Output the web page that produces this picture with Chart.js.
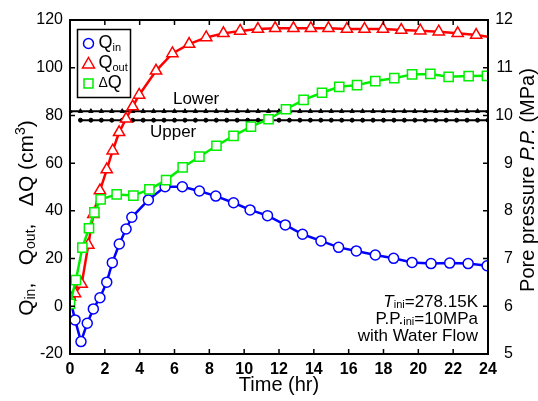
<!DOCTYPE html>
<html>
<head>
<meta charset="utf-8">
<script src="https://cdn.jsdelivr.net/npm/chart.js@4.4.1/dist/chart.umd.min.js"></script>
<style>
html,body{margin:0;padding:0;background:#fff;}
#wrap{width:538px;height:401px;}
</style>
</head>
<body>
<div id="wrap"><canvas id="c" width="538" height="401"></canvas></div>
<script>
// time (hr) and flow values (cm3)
const tIn = [0,0.29,0.63,0.99,1.34,1.72,2.11,2.43,2.83,3.22,3.55,4.5,5.46,6.45,7.43,8.37,9.39,10.34,11.34,12.36,13.35,14.41,15.42,16.44,17.53,18.58,19.64,20.73,21.8,22.86,23.95];
const qIn = [3.4,-5.7,-14.8,-7.1,-1.1,3.6,10.1,18.3,26.1,32.4,37.3,44.6,50.1,50.1,48.3,46.2,43.4,40.4,38.0,34.1,30.2,27.4,24.7,23.2,21.5,20.1,18.4,17.9,18.1,17.9,17.0];

const tOut = [0,0.29,0.67,1.05,1.34,1.72,2.11,2.45,2.82,3.22,3.6,3.97,4.94,5.88,6.84,7.82,8.81,9.77,10.79,11.78,12.83,13.83,14.84,15.9,16.91,17.97,19.02,20.11,21.17,22.26,23.32,24];
const qOut = [4.0,5.4,9.3,25.7,38.6,48.5,57.3,65.2,72.9,78.6,83.7,88.6,98.7,106.0,109.9,112.7,114.4,115.4,116.2,116.5,116.5,116.5,116.5,116.2,116.2,116.2,115.8,115.5,115.1,114.4,113.7,113.0];

const tDelta = [0,0.34,0.71,1.09,1.4,1.76,2.68,3.64,4.56,5.52,6.47,7.43,8.41,9.39,10.39,11.4,12.4,13.41,14.47,15.46,16.48,17.53,18.62,19.64,20.69,21.74,22.89,23.94];
const qDelta = [1.0,11.0,24.6,32.7,39.4,44.8,46.9,46.4,49.0,52.9,58.2,62.7,67.3,71.4,75.3,78.4,82.6,86.5,89.5,92.0,92.7,94.4,95.6,97.2,97.4,96.2,96.5,96.6];

// pore pressure (MPa), lower and upper
const tLower = [0,0.6,1.2,1.8,2.4,3,3.6,4.2,4.8,5.4,6,6.6,7.2,7.8,8.4,9,9.6,10.2,10.8,11.4,12,12.6,13.2,13.8,14.4,15,15.6,16.2,16.8,17.4,18,18.6,19.2,19.8,20.4,21,21.6,22.2,22.8,23.4,24];
const pLower = [10.09,10.09,10.09,10.09,10.09,10.09,10.09,10.09,10.09,10.09,10.09,10.09,10.09,10.09,10.09,10.09,10.09,10.09,10.09,10.09,10.09,10.09,10.09,10.09,10.09,10.09,10.09,10.09,10.09,10.09,10.09,10.09,10.09,10.09,10.09,10.09,10.09,10.09,10.09,10.09,10.09];
const tUpper = [0.6,1.2,1.8,2.4,3,3.6,4.2,4.8,5.4,6,6.6,7.2,7.8,8.4,9,9.6,10.2,10.8,11.4,12,12.6,13.2,13.8,14.4,15,15.6,16.2,16.8,17.4,18,18.6,19.2,19.8,20.4,21,21.6,22.2,22.8,23.4,24];
const pUpper = [9.9,9.9,9.9,9.9,9.9,9.9,9.9,9.9,9.9,9.9,9.9,9.9,9.9,9.9,9.9,9.9,9.9,9.9,9.9,9.9,9.9,9.9,9.9,9.9,9.9,9.9,9.9,9.9,9.9,9.9,9.9,9.9,9.9,9.9,9.9,9.9,9.9,9.9,9.9,9.9];

const xTicks = [0,2,4,6,8,10,12,14,16,18,20,22,24];
const yTicks = [-20,0,20,40,60,80,100,120];
const y2Ticks = [5,6,7,8,9,10,11,12];

const FONT = "'Liberation Sans', Arial, sans-serif";
const BLUE = '#0000ff', RED = '#ff0000', GREEN = '#00ee00';

function pts(xs, ys){
return xs.map((x,i)=>({x:x, y:ys[i]}));
}

// draw text made of pieces (subscripts etc.)
function rich(ctx, x, y, pieces, align){
let w = 0;
pieces.forEach(p=>{
ctx.font = (p.it ? 'italic ' : '') + p.size + 'px ' + FONT;
p.w = ctx.measureText(p.t).width;
w += p.w;
});
let cx = x;
if(align === 'right') cx = x - w;
if(align === 'center') cx = x - w/2;
ctx.textAlign = 'left';
ctx.textBaseline = 'middle';
pieces.forEach(p=>{
ctx.font = (p.it ? 'italic ' : '') + p.size + 'px ' + FONT;
ctx.fillText(p.t, cx, y + (p.dy || 0));
cx += p.w;
});
}

function marker(ctx, type, x, y, color){
ctx.save();
ctx.strokeStyle = color;
ctx.fillStyle = '#fff';
ctx.lineWidth = 1.5;
ctx.beginPath();
if(type === 'circle'){
ctx.arc(x, y, 5, 0, Math.PI*2);
}else if(type === 'triangle'){
ctx.moveTo(x, y-6);
ctx.lineTo(x+6, y+4.5);
ctx.lineTo(x-6, y+4.5);
ctx.closePath();
}else{
ctx.rect(x-4.5, y-4.5, 9, 9);
}
ctx.fill();
ctx.stroke();
ctx.restore();
}

const decor = {
id:'decor',
afterDraw(chart){
const ctx = chart.ctx;
const ca = chart.chartArea;
const sx = chart.scales.x, sy = chart.scales.y, sy2 = chart.scales.y2;
ctx.save();
ctx.strokeStyle = '#000';
ctx.fillStyle = '#000';

// frame
ctx.lineWidth = 2;
ctx.strokeRect(ca.left, ca.top, ca.right-ca.left, ca.bottom-ca.top);

// inward ticks
ctx.lineWidth = 1.5;
ctx.beginPath();
xTicks.forEach(v=>{
const px = sx.getPixelForValue(v);
ctx.moveTo(px, ca.bottom); ctx.lineTo(px, ca.bottom-5);
ctx.moveTo(px, ca.top); ctx.lineTo(px, ca.top+5);
});
yTicks.forEach(v=>{
const py = sy.getPixelForValue(v);
ctx.moveTo(ca.left, py); ctx.lineTo(ca.left+5, py);
});
y2Ticks.forEach(v=>{
const py = sy2.getPixelForValue(v);
ctx.moveTo(ca.right, py); ctx.lineTo(ca.right-5, py);
});
ctx.stroke();

// legend
const lx = ca.left + 7.5, ly = ca.top + 9.5;
ctx.lineWidth = 1.5;
ctx.strokeRect(lx, ly, 53, 68);
marker(ctx, 'circle', lx+11, ly+14, BLUE);
marker(ctx, 'triangle', lx+11, ly+34, RED);
marker(ctx, 'rect', lx+11, ly+54, GREEN);
ctx.fillStyle = '#000';
rich(ctx, lx+21, ly+14, [{t:'Q', size:18},{t:'in', size:11, dy:4}], 'left');
rich(ctx, lx+21, ly+34, [{t:'Q', size:18},{t:'out', size:11, dy:4}], 'left');
rich(ctx, lx+21, ly+54, [{t:'\u0394', size:14},{t:'Q', size:18}], 'left');

// line labels
rich(ctx, sx.getPixelForValue(7.24), sy2.getPixelForValue(10.34), [{t:'Lower', size:17}], 'center');
rich(ctx, sx.getPixelForValue(5.92), sy2.getPixelForValue(9.65), [{t:'Upper', size:17}], 'center');

// conditions
const rx = ca.right - 10;
rich(ctx, rx, ca.bottom-52, [{t:'T', size:17, it:true},{t:'ini', size:11, dy:3},{t:'=278.15K', size:17}], 'right');
rich(ctx, rx, ca.bottom-35, [{t:'P.P.', size:17},{t:'ini', size:11, dy:3},{t:'=10MPa', size:17}], 'right');
rich(ctx, rx, ca.bottom-18, [{t:'with Water Flow', size:17}], 'right');

// x title
rich(ctx, (ca.left+ca.right)/2, ca.bottom+31, [{t:'Time (hr)', size:20}], 'center');

// left title
ctx.save();
ctx.translate(27, 218);
ctx.rotate(-Math.PI/2);
rich(ctx, 0, 0, [
{t:'Q', size:21},{t:'in', size:14, dy:4},{t:',   Q', size:21},{t:'out', size:14, dy:4},
{t:',   \u0394Q (cm', size:21},{t:'3', size:14, dy:-6},{t:')', size:21}
], 'center');
ctx.restore();

// right title
ctx.save();
ctx.translate(528, 180);
ctx.rotate(-Math.PI/2);
rich(ctx, 0, 0, [{t:'Pore pressure ', size:20},{t:'P.P.', size:20, it:true},{t:' (MPa)', size:20}], 'center');
ctx.restore();

ctx.restore();
}
};

new Chart(document.getElementById('c'),{
type:'line',
data:{
datasets:[
{
label:'Qin',
data:pts(tIn,qIn),
yAxisID:'y',
borderColor:BLUE,
borderWidth:2.5,
pointStyle:'circle',
pointRadius:5,
pointBackgroundColor:'#fff',
pointBorderColor:BLUE,
pointBorderWidth:1.5,
order:3
},
{
label:'Qout',
data:pts(tOut,qOut),
yAxisID:'y',
borderColor:RED,
borderWidth:2.5,
pointStyle:'triangle',
pointRadius:ctx => ctx.dataIndex === tOut.length-1 ? 0 : 6.5,
pointBackgroundColor:'#fff',
pointBorderColor:RED,
pointBorderWidth:1.5,
order:2
},
{
label:'dQ',
data:pts(tDelta,qDelta),
yAxisID:'y',
borderColor:GREEN,
borderWidth:2.5,
pointStyle:'rect',
pointRadius:6.5,
pointBackgroundColor:'#fff',
pointBorderColor:GREEN,
pointBorderWidth:1.5,
order:1
},
{
label:'Lower',
data:pts(tLower,pLower),
yAxisID:'y2',
borderColor:'#000',
borderWidth:2,
pointStyle:'triangle',
pointRadius:2.5,
pointBackgroundColor:'#000',
pointBorderColor:'#000',
pointBorderWidth:1,
order:4
},
{
label:'Upper',
data:pts(tUpper,pUpper),
yAxisID:'y2',
borderColor:'#000',
borderWidth:2,
pointStyle:'circle',
pointRadius:2,
pointBackgroundColor:'#000',
pointBorderColor:'#000',
pointBorderWidth:1,
order:5
}
]
},
options:{
responsive:false,
animation:false,
layout:{padding:{left:36, right:25, top:20, bottom:6}},
plugins:{legend:{display:false}, tooltip:{enabled:false}},
scales:{
x:{
type:'linear',
min:0, max:24,
afterBuildTicks: s => { s.ticks = xTicks.map(v=>({value:v})); },
afterFit: s => { s.height = 41; },
grid:{display:false, drawTicks:false},
border:{display:false},
ticks:{color:'#000', padding:6, font:{family:FONT, size:16, weight:'bold'}, maxRotation:0, autoSkip:false}
},
y:{
position:'left',
min:-20, max:120,
afterBuildTicks: s => { s.ticks = yTicks.map(v=>({value:v})); },
afterFit: s => { s.width = 34; },
grid:{display:false, drawTicks:false},
border:{display:false},
ticks:{color:'#000', padding:7, font:{family:FONT, size:16}}
},
y2:{
position:'right',
min:5, max:12,
afterBuildTicks: s => { s.ticks = y2Ticks.map(v=>({value:v})); },
afterFit: s => { s.width = 25; },
grid:{display:false, drawTicks:false},
border:{display:false},
ticks:{color:'#000', padding:7, crossAlign:'far', font:{family:FONT, size:16}}
}
}
},
plugins:[decor]
});
</script>
</body>
</html>
